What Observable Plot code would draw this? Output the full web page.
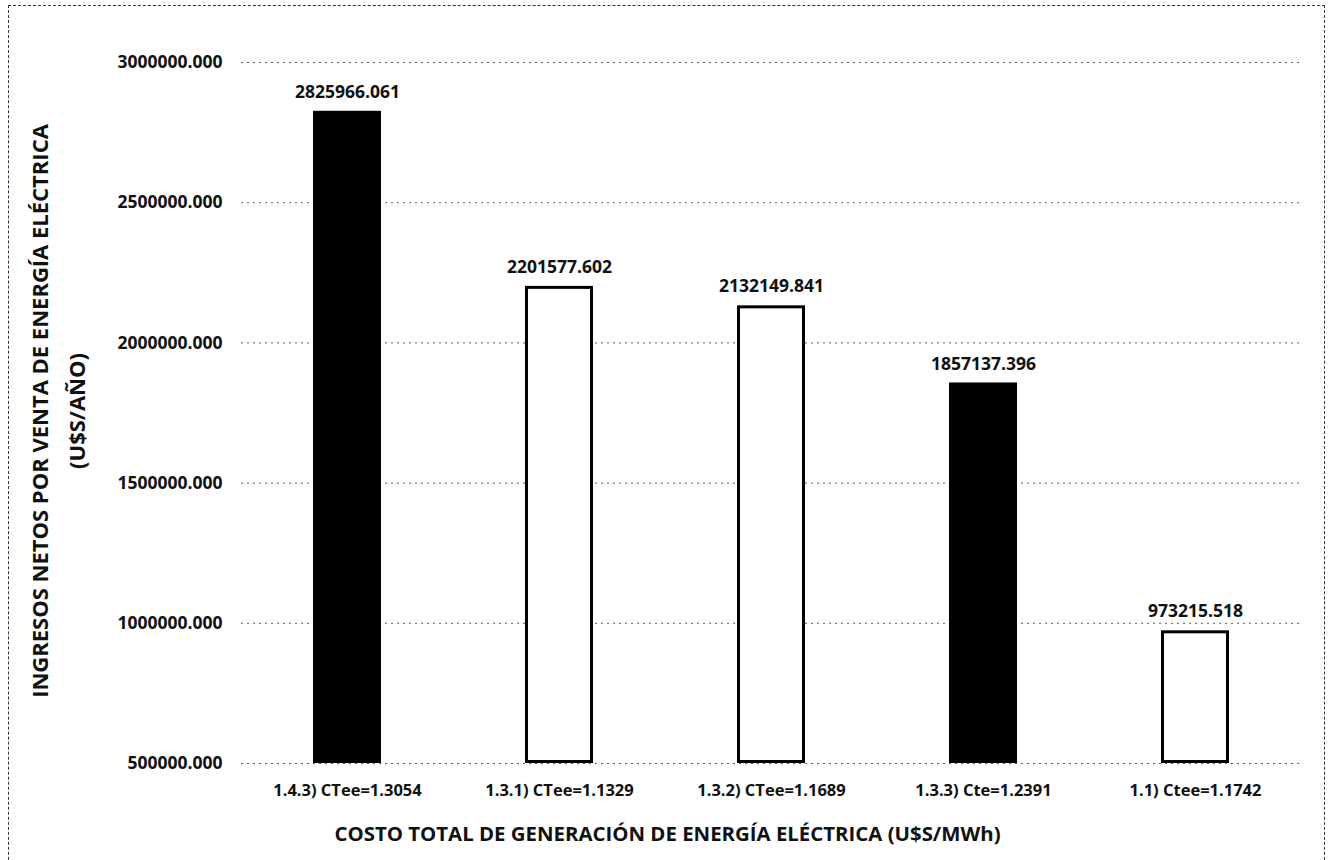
<!DOCTYPE html>
<html><head><meta charset="utf-8">
<script src="https://cdn.jsdelivr.net/npm/d3@7"></script>
<script src="https://cdn.jsdelivr.net/npm/@observablehq/plot@0.6"></script>
<style>
html,body{margin:0;padding:0;background:#fff;overflow:hidden;}
#wrap{position:relative;width:1329px;height:860px;}
#border{position:absolute;left:8px;top:5px;width:1317px;height:900px;border:1px dashed #333;box-sizing:border-box;pointer-events:none;}
#chart{position:absolute;left:0;top:0;}
svg{font-family:"Open Sans",Lato,sans-serif;}
</style></head>
<body><div id="wrap"><div id="border"></div><div id="chart"></div></div>
<script>
const categories = ["1.4.3) CTee=1.3054","1.3.1) CTee=1.1329","1.3.2) CTee=1.1689","1.3.3) Cte=1.2391","1.1) Ctee=1.1742"];
const values = [2825966.061, 2201577.602, 2132149.841, 1857137.396, 973215.518];
const fills = ["black","white","white","black","white"];
const yTicks = [500000,1000000,1500000,2000000,2500000,3000000];
const yTitle1 = "INGRESOS NETOS POR VENTA DE ENERGÍA ELÉCTRICA";
const yTitle2 = "(U$S/AÑO)";
const xTitle = "COSTO TOTAL DE GENERACIÓN DE ENERGÍA ELÉCTRICA (U$S/MWh)";

const data = categories.map((c,i)=>({cat:c, value:values[i], fill:fills[i]}));
const fmt = d3.format(".3f");

const chart = Plot.plot({
  width: 1329, height: 860,
  marginTop: 62, marginBottom: 97, marginLeft: 241, marginRight: 28,
  style: {fontFamily: '"Open Sans", Lato, sans-serif', background: "transparent"},
  x: {domain: categories, paddingInner: 0.68, paddingOuter: 0.34, label: null},
  y: {domain: [500000, 3000000], label: null},
  marks: [
    Plot.gridY(yTicks, {stroke: "#444", strokeOpacity: 0.85, strokeDasharray: "2,4", strokeWidth: 1}),
    Plot.axisY(yTicks, {tickFormat: fmt, tickSize: 0, tickPadding: 19, fontSize: 17.5, fontWeight: "bold", fill: "#111", label: null}),
    Plot.axisX({tickSize: 0, tickPadding: 21, fontSize: 16.5, fontWeight: "bold", fill: "#111", label: null}),
    Plot.barY(data, {x: "cat", y1: 500000, y2: "value", fill: "fill", stroke: "black", strokeWidth: 3, inset: 1.5}),
    Plot.text(data, {x: "cat", y: "value", text: d => fmt(d.value), dy: -19, fontSize: 17.5, fontWeight: "bold", fill: "#111"}),
    Plot.text([yTitle1], {frameAnchor: "left", textAnchor: "middle", dx: -201, dy: -2, rotate: -90, fontSize: 22, fontWeight: "bold", fill: "#111"}),
    Plot.text([yTitle2], {frameAnchor: "left", textAnchor: "middle", dx: -164, dy: -2, rotate: -90, fontSize: 22, fontWeight: "bold", fill: "#111"}),
    Plot.text([xTitle], {frameAnchor: "bottom", dx: -104, dy: 77, fontSize: 20.4, fontWeight: "bold", fill: "#111"})
  ]
});
document.getElementById("chart").appendChild(chart);
</script></body></html>
